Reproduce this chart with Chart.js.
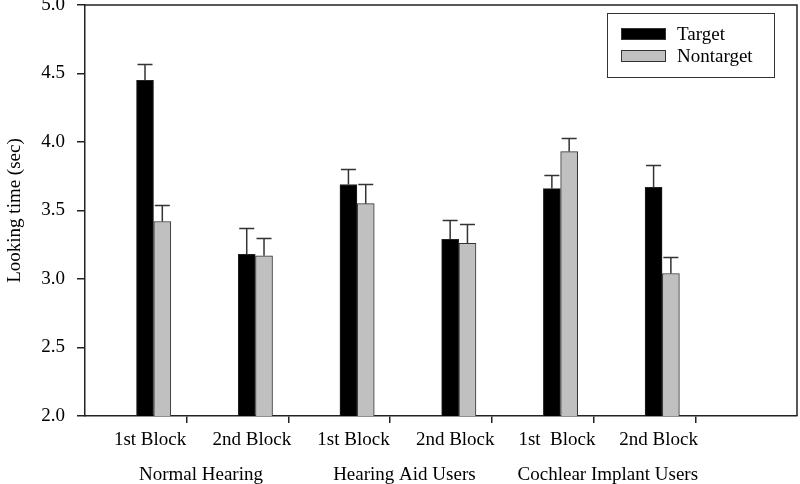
<!DOCTYPE html>
<html lang="en">
<head>
<meta charset="UTF-8">
<title>Looking time</title>
<style>
  * { margin: 0; padding: 0; }
  body { background: #fff; }
  #chart { display: block; }
</style>
</head>
<body>
<canvas id="chart" width="800" height="484"></canvas>
<script src="https://cdn.jsdelivr.net/npm/chart.js"></script>
<script>
// values
const blockLabels = ['1st Block', '2nd Block', '1st Block', '2nd Block', '1st  Block', '2nd Block'];
const groupLabels = ['Normal Hearing', 'Hearing Aid Users', 'Cochlear Implant Users'];
const target = [4.45, 3.18, 3.69, 3.29, 3.66, 3.67];
const targetErr = [0.12, 0.19, 0.11, 0.14, 0.10, 0.16];
const nontarget = [3.42, 3.17, 3.55, 3.26, 3.93, 3.04];
const nontargetErr = [0.12, 0.13, 0.14, 0.14, 0.10, 0.12];

const FONT = '19px "Liberation Serif", "Times New Roman", serif';
const TARGET_POS = 0.59;     // bar centre inside each slot
const NONTARGET_POS = 0.76;

function toPoints(vals, pos) {
  return vals.map((v, i) => ({ x: i + pos, y: v }));
}

const decor = {
  id: 'decor',
  afterDatasetsDraw(chart) {
    const ctx = chart.ctx, y = chart.scales.y;
    ctx.save();
    ctx.strokeStyle = '#333';
    ctx.lineWidth = 1.5;
    chart.data.datasets.forEach((ds, di) => {
      chart.getDatasetMeta(di).data.forEach((bar, i) => {
        const top = Math.round(y.getPixelForValue(ds.data[i].y + ds.errors[i])) + 0.5;
        ctx.beginPath();
        ctx.moveTo(bar.x, bar.y);
        ctx.lineTo(bar.x, top);
        ctx.moveTo(bar.x - 7.5, top);
        ctx.lineTo(bar.x + 7.5, top);
        ctx.stroke();
      });
    });
    ctx.restore();
  },
  afterDraw(chart) {
    const ctx = chart.ctx, a = chart.chartArea, x = chart.scales.x;
    ctx.save();
    // top and right frame
    ctx.strokeStyle = '#222';
    ctx.lineWidth = 1.5;
    ctx.beginPath();
    ctx.moveTo(a.left, a.top);
    ctx.lineTo(a.right, a.top);
    ctx.lineTo(a.right, a.bottom);
    ctx.stroke();

    // category labels
    ctx.fillStyle = '#000';
    ctx.font = FONT;
    ctx.textAlign = 'center';
    ctx.textBaseline = 'middle';
    blockLabels.forEach((t, i) => {
      ctx.fillText(t, x.getPixelForValue(i + 0.64), 440);
    });
    groupLabels.forEach((t, g) => {
      ctx.fillText(t, x.getPixelForValue(g * 2 + 1.14), 475);
    });

    // legend box
    ctx.lineWidth = 1;
    ctx.strokeStyle = '#333';
    ctx.strokeRect(607.5, 13.5, 167, 64);
    chart.data.datasets.forEach((ds, di) => {
      const cy = 34 + di * 22;
      ctx.fillStyle = ds.backgroundColor;
      ctx.fillRect(621, cy - 6, 45, 12);
      ctx.strokeRect(621.5, cy - 5.5, 44, 11);
      ctx.fillStyle = '#000';
      ctx.textAlign = 'left';
      ctx.fillText(ds.label, 677, cy + 1);
    });
    ctx.restore();
  }
};

new Chart(document.getElementById('chart'), {
  type: 'bar',
  data: {
    datasets: [{
      label: 'Target',
      data: toPoints(target, TARGET_POS),
      errors: targetErr,
      backgroundColor: '#000000',
      borderColor: '#222',
      borderWidth: 1
    }, {
      label: 'Nontarget',
      data: toPoints(nontarget, NONTARGET_POS),
      errors: nontargetErr,
      backgroundColor: '#c0c0c0',
      borderColor: '#333',
      borderWidth: 1
    }]
  },
  options: {
    responsive: false,
    animation: false,
    grouped: false,
    barThickness: 17,
    layout: { padding: { top: 5, right: 3, left: 0, bottom: 0 } },
    plugins: {
      legend: { display: false },
      tooltip: { enabled: false }
    },
    scales: {
      x: {
        type: 'linear',
        min: 0,
        max: 7,
        offset: false,
        afterFit(s) { s.height = 68; s.paddingLeft = 0; s.paddingRight = 0; },
        ticks: { stepSize: 1, callback: () => '' },
        grid: {
          offset: false,
          drawOnChartArea: false,
          tickLength: 7,
          lineWidth: 1.5,
          color: ctx => (ctx.tick && (ctx.tick.value === 0 || ctx.tick.value === 7)) ? 'rgba(0,0,0,0)' : '#222'
        },
        border: { display: true, color: '#222', width: 1.5 }
      },
      y: {
        min: 2,
        max: 5,
        afterFit(s) { s.width = 85; s.paddingTop = 0; s.paddingBottom = 0; },
        ticks: {
          stepSize: 0.5,
          padding: 12,
          color: '#000',
          font: { family: '"Liberation Serif", "Times New Roman", serif', size: 19 },
          callback: v => v.toFixed(1)
        },
        grid: { drawOnChartArea: false, tickLength: 8, lineWidth: 1.5, color: '#222' },
        border: { display: true, color: '#222', width: 1.5 },
        title: {
          display: true,
          text: 'Looking time (sec)',
          color: '#000',
          padding: { top: 4, bottom: 0 },
          font: { family: '"Liberation Serif", "Times New Roman", serif', size: 19 }
        }
      }
    }
  },
  plugins: [decor]
});
</script>
</body>
</html>
